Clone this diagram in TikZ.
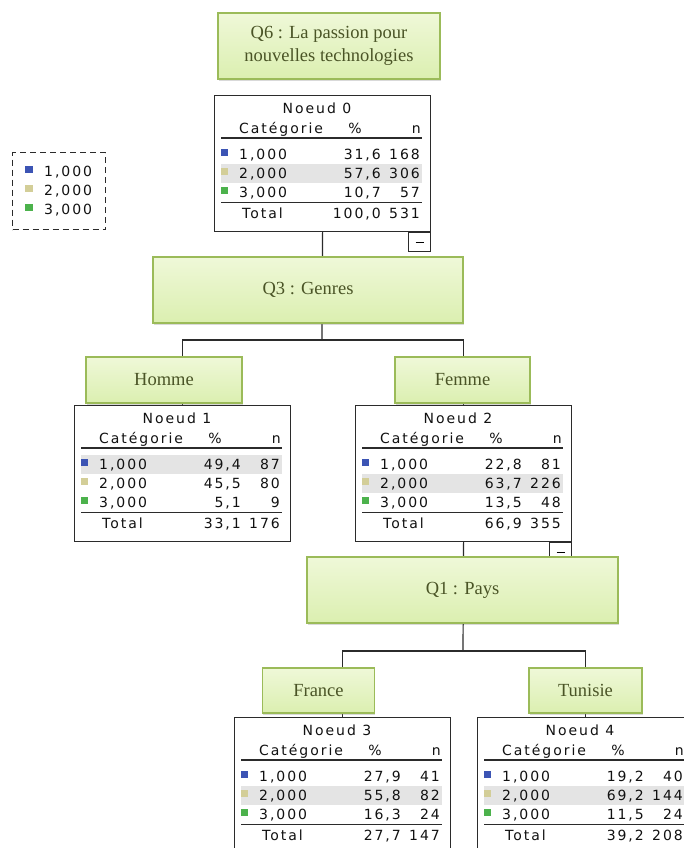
\documentclass[tikz,border=0pt]{standalone}
\usepackage{fontspec}
\setmainfont{Liberation Serif}
\newfontfamily\tabfont[LetterSpace=14]{DejaVu Sans}
\usepackage{xcolor}
\usetikzlibrary{positioning,shadows,backgrounds}
\definecolor{qborder}{HTML}{9BBB59}
\definecolor{qtop}{HTML}{EFF8D8}
\definecolor{qbottom}{HTML}{DBEFB0}
\definecolor{qtext}{HTML}{4A5426}
\definecolor{framegray}{HTML}{2B2B2B}
\definecolor{tabtext}{HTML}{111111}
\definecolor{rowshade}{HTML}{E4E4E4}
\definecolor{cat1}{HTML}{3C54B4}
\definecolor{cat2}{HTML}{D3CE98}
\definecolor{cat3}{HTML}{4CB24C}

% #1 name, #2 top-left corner, #3 node number, #4 rows pct/n, #5 shaded row, #6 total pct, #7 total n
\newcommand{\noeudtab}[7]{%
  \node[tabframe] (#1) at (#2) {};
  \pgfmathsetmacro{\bandtop}{31+19*#5}
  \pgfmathsetmacro{\bandbot}{50+19*#5}
  \fill[rowshade] ([xshift=7pt,yshift={-\bandtop*1pt}]#1.north west) rectangle ([xshift=208pt,yshift={-\bandbot*1pt}]#1.north west);
  \node[tabtxt, anchor=base] (#1-title) at ([xshift=103pt,yshift=-18.5pt]#1.north west) {Noeud #3};
  \node[tabtxt, anchor=base west] (#1-cat) at ([xshift=25pt,yshift=-38.5pt]#1.north west) {Catégorie};
  \node[tabtxt, anchor=base] (#1-pcthead) at ([xshift=141pt,yshift=-38.5pt]#1.north west) {\%};
  \node[tabtxt, anchor=base east] (#1-nhead) at ([xshift=207pt,yshift=-38.5pt]#1.north west) {n};
  \draw[rule] ([xshift=7pt,yshift=-43pt]#1.north west) -- ++(201pt,0pt);
  \foreach \pct/\cnt [count=\k] in {#4} {
    \pgfmathsetmacro{\rowy}{45+19*\k}
    \node[swatch=cat\k] (#1-sw\k) at ([xshift=10.5pt,yshift={-(\rowy-6.5)*1pt}]#1.north west) {};
    \node[tabtxt, anchor=base west] (#1-lab\k) at ([xshift=25pt,yshift={-\rowy*1pt}]#1.north west) {\k,000};
    \node[tabtxt, anchor=base east] (#1-pct\k) at ([xshift=167pt,yshift={-\rowy*1pt}]#1.north west) {\pct};
    \node[tabtxt, anchor=base east] (#1-n\k) at ([xshift=206pt,yshift={-\rowy*1pt}]#1.north west) {\cnt};
  }
  \draw[rule] ([xshift=7pt,yshift=-107.5pt]#1.north west) -- ++(201pt,0pt);
  \node[tabtxt, anchor=base west] (#1-tot) at ([xshift=28pt,yshift=-123.5pt]#1.north west) {Total};
  \node[tabtxt, anchor=base east] (#1-totpct) at ([xshift=167pt,yshift=-123.5pt]#1.north west) {#6};
  \node[tabtxt, anchor=base east] (#1-totn) at ([xshift=206pt,yshift=-123.5pt]#1.north west) {#7};
}

\begin{document}
\begin{tikzpicture}[
  x=1pt, y=-1pt,
  qbox/.style={rectangle, draw=qborder, line width=1.3pt, top color=qtop, bottom color=qbottom,
    drop shadow={shadow xshift=0.6pt, shadow yshift=-2.2pt, opacity=0.3},
    text=qtext, align=center, inner sep=2pt, font=\fontsize{18.5}{23}\selectfont},
  tabframe/.style={rectangle, draw=framegray, line width=1.2pt, fill=white, anchor=north west,
    minimum width=216pt, minimum height=136pt, inner sep=0pt},
  tabtxt/.style={font=\tabfont\fontsize{14}{16}\selectfont, text=tabtext, inner sep=0pt},
  swatch/.style={rectangle, fill=#1, minimum size=7.5pt, inner sep=0pt},
  rule/.style={draw=framegray, line width=1.2pt},
  link/.style={draw=framegray, line width=1.2pt},
  minusbox/.style={rectangle, draw=framegray, line width=1.2pt, fill=white, minimum width=22pt,
    minimum height=19pt, inner sep=0pt},
  legendbox/.style={rectangle, draw=framegray, dash pattern=on 6pt off 4pt, line width=1.3pt,
    minimum width=93pt, minimum height=77pt}
]
  \useasboundingbox (0,0) rectangle (684,848);
  \clip (0,0) rectangle (684,848);

  \node[legendbox] (legend) at (59,191) {};
  \foreach \k/\ly in {1/171, 2/190, 3/209} {
    \node[swatch=cat\k] (leg\k) at (29,\ly-1.5) {};
    \node[tabtxt, anchor=base west] (leg\k-txt) at (44,\ly+5) {\k,000};
  }

  \noeudtab{n0}{214,95}{0}{{31,6}/168, {57,6}/306, {10,7}/57}{2}{100,0}{531}
  \noeudtab{n1}{74,405}{1}{{49,4}/87, {45,5}/80, {5,1}/9}{1}{33,1}{176}
  \noeudtab{n2}{355,405}{2}{{22,8}/81, {63,7}/226, {13,5}/48}{2}{66,9}{355}
  \noeudtab{n3}{234,717}{3}{{27,9}/41, {55,8}/82, {16,3}/24}{2}{27,7}{147}
  \noeudtab{n4}{477,717}{4}{{19,2}/40, {69,2}/144, {11,5}/24}{2}{39,2}{208}

  \node[minusbox, below left=0pt of n0.south east] (n0-minus) {\rule{8pt}{1.2pt}};
  \node[minusbox, below left=0pt of n2.south east] (n2-minus) {\rule{8pt}{1.2pt}};

  \coordinate (genre) at (322,340);
  \coordinate (pays) at (463,651);
  \begin{scope}[on background layer]
    \draw[link] (n0.south) -- (genre);
    \draw[link] (n1.north) |- (genre) -| (n2.north);
    \draw[link] (n2.south) -- (pays);
    \draw[link] (n3.north) |- (pays) -| (n4.north);
  \end{scope}

  \node[qbox, minimum width=222pt, minimum height=66pt] (q6) at (329,46) {Q6 : La passion pour\\nouvelles technologies};
  \node[qbox, minimum width=310pt, minimum height=66pt] (q3) at (308,290) {Q3 : Genres};
  \node[qbox, minimum width=156pt, minimum height=46pt] (homme) at (164,380) {Homme};
  \node[qbox, minimum width=135pt, minimum height=46pt] (femme) at (462.5,380) {Femme};
  \node[qbox, minimum width=311pt, minimum height=66pt] (q1) at (462.5,590) {Q1 : Pays};
  \node[qbox, minimum width=112pt, minimum height=45pt] (france) at (318.5,690.5) {France};
  \node[qbox, minimum width=113pt, minimum height=45pt] (tunisie) at (585.5,690.5) {Tunisie};
\end{tikzpicture}
\end{document}
